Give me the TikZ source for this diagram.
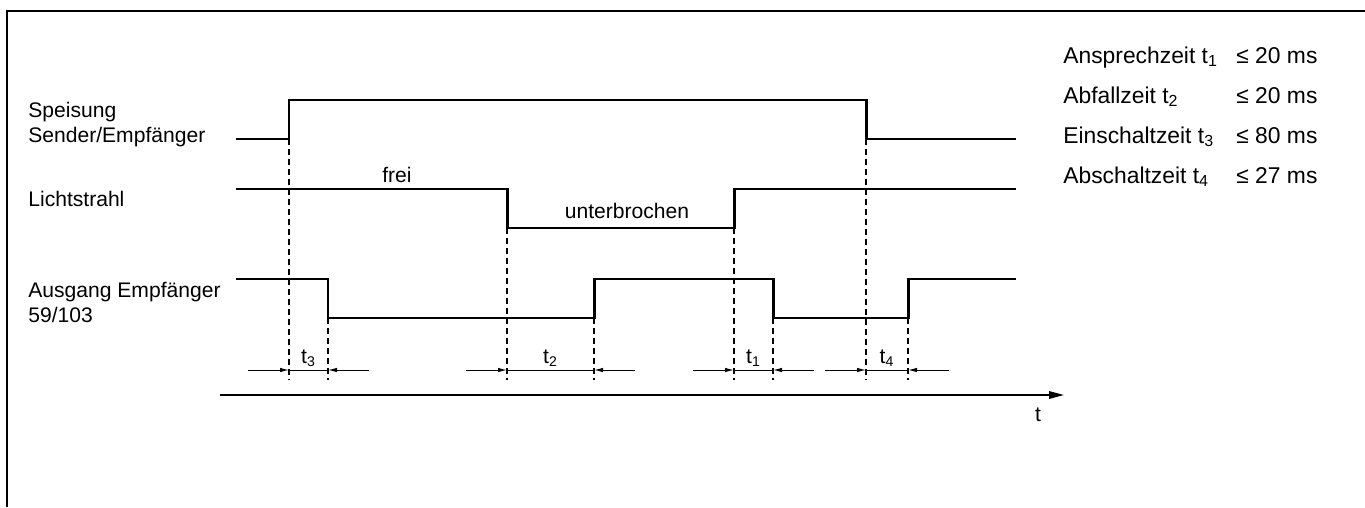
\documentclass[tikz,border=0pt]{standalone}
\usepackage{fontspec}
\setmainfont{Liberation Sans}
\usetikzlibrary{arrows.meta,positioning}

\begin{document}
\begin{tikzpicture}
  [x=0.02cm,y=-0.02cm,
   every node/.style={inner sep=0pt,font=\fontsize{12}{14.2}\selectfont},
   table/.style={anchor=base west,font=\fontsize{13}{15}\selectfont},
   signal/.style={line width=1.7pt},
   guide/.style={line width=0.7pt,dash pattern=on 0.12cm off 0.08cm},
   measure/.style={line width=0.55pt,-{Latex[length=0.18cm,width=0.09cm]}}]
\useasboundingbox (0,0) rectangle (1365,507);
% frame
\draw[line width=1.1pt] (1365,11) -- (7,11) -- (7,507);

% signal names
\node[anchor=base west,align=left] (speisung) at (28,142) {Speisung\\Sender/Empfänger};
\node[anchor=base west] (licht) at (28,206) {Lichtstrahl};
\node[anchor=base west,align=left] (ausgang) at (28,322) {Ausgang Empfänger\\59/103};

% switching points
\coordinate (on) at (289,139);
\coordinate (off) at (866,139);
\coordinate (cut) at (507,228);
\coordinate (clear) at (734,228);
\coordinate (q1) at (328,318);
\coordinate (q2) at (594,318);
\coordinate (q3) at (773,318);
\coordinate (q4) at (908,318);
\coordinate (bottom) at (0,380);

% signals
\draw[signal] (236,139) -- (on) |- (866,100) -- (off) -- (1016,139);
\draw[signal] (236,189) -| (cut) -- (clear) |- (1016,189);
\draw[signal] (236,279) -| (q1) -- (q2) |- (q3 |- 0,279) -- (q3) -- (q4) |- (1016,279);
\node[anchor=base] (frei) at (397,182) {frei};
\node[anchor=base] (unterbrochen) at (627,218) {unterbrochen};

% guides
\foreach \p in {on,off,cut,clear,q1,q2,q3,q4}
  \draw[guide] (\p) -- (\p |- bottom);

% times
\foreach \a/\b/\i in {on/q1/3, cut/q2/2, clear/q3/1, off/q4/4}{
  \draw[measure] ([xshift=-41*0.02cm]\a |- 0,370) -- (\a |- 0,370);
  \draw[line width=0.55pt] (\a |- 0,370) -- (\b |- 0,370);
  \draw[measure] ([xshift=41*0.02cm]\b |- 0,370) -- (\b |- 0,370);
  \path (\a |- 0,363) -- node[anchor=base] (t\i) {t\textsubscript{\i}} (\b |- 0,363);
}

% time axis
\draw[line width=0.9pt,-{Triangle[length=0.3cm,width=0.15cm]}] (220,395) -- (1064,395);
\node[anchor=base] (t) at (1038,421) {t};

% table
\foreach \name/\i/\val [count=\r] in {Ansprechzeit/1/20, Abfallzeit/2/20, Einschaltzeit/3/80, Abschaltzeit/4/27}{
  \node[table] (zeit\r) at (1063,{23+40*\r}) {\name\ t\textsubscript{\i}};
  \node[table] (wert\r) at (1236,{23+40*\r}) {≤ \val\ ms};
}
\end{tikzpicture}
\end{document}
